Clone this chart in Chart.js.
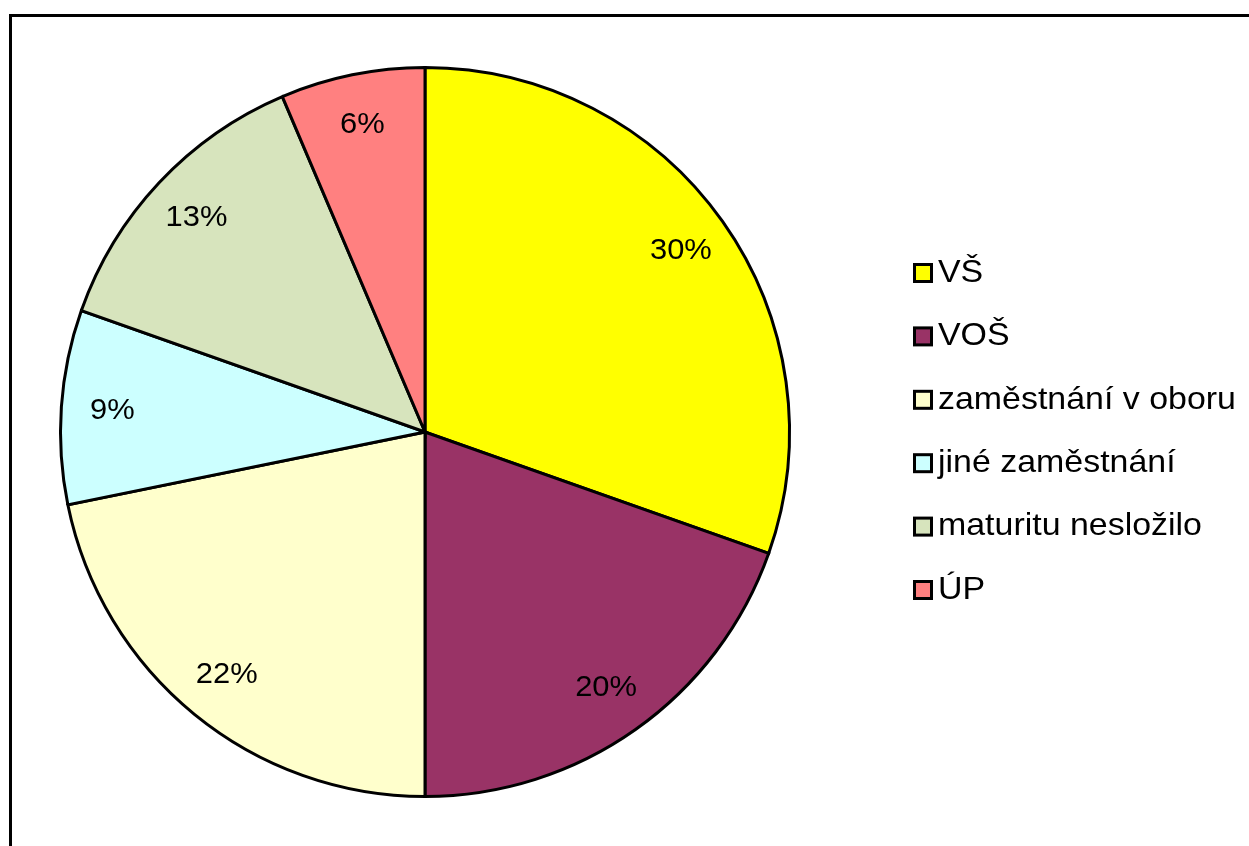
<!DOCTYPE html>
<html>
<head>
<meta charset="utf-8">
<script src="https://cdn.jsdelivr.net/npm/chart.js@4"></script>
<style>
  html, body { margin: 0; padding: 0; background: #fff; overflow: hidden; }
  #wrap { position: relative; width: 1249px; height: 846px; }
</style>
</head>
<body>
<div id="wrap"><canvas id="pieChart" width="1249" height="846"></canvas></div>
<script>
// Data (percent shares)
const categories = ['VŠ', 'VOŠ', 'zaměstnání v oboru', 'jiné zaměstnání', 'maturitu nesložilo', 'ÚP'];
const shares = [30.4, 19.6, 21.8, 8.6, 13.2, 6.4];
const sliceColors = ['#FFFF00', '#993366', '#FFFFCC', '#CCFFFF', '#D7E4BD', '#FF8080'];

const FONT = '"Liberation Sans", Arial, sans-serif';

function wideText(ctx, txt, x, y, align, sx) {
    ctx.save();
    ctx.translate(x, y);
    ctx.scale(sx, 1);
    ctx.textAlign = align;
    ctx.fillText(txt, 0, 0);
    ctx.restore();
}

// frame around the chart
const framePlugin = {
    id: 'frame',
    beforeDraw(chart) {
        const ctx = chart.ctx;
        ctx.save();
        ctx.strokeStyle = '#000';
        ctx.lineWidth = 3;
        ctx.strokeRect(10.5, 15.5, 1260, 860);
        ctx.restore();
    }
};

// percentage labels inside the slices
const sliceLabels = {
    id: 'sliceLabels',
    afterDatasetsDraw(chart) {
        const ctx = chart.ctx;
        const meta = chart.getDatasetMeta(0);
        const total = shares.reduce((a, b) => a + b, 0);
        ctx.save();
        ctx.font = '30px ' + FONT;
        ctx.fillStyle = '#000';
        ctx.textBaseline = 'middle';
        meta.data.forEach((arc, i) => {
            const mid = (arc.startAngle + arc.endAngle) / 2;
            const r = arc.outerRadius * 0.86;
            const x = arc.x + Math.cos(mid) * r;
            const y = arc.y + Math.sin(mid) * r;
            wideText(ctx, Math.round(shares[i] / total * 100) + '%', x, y, 'center', 1.03);
        });
        ctx.restore();
    }
};

// legend on the right, squares with black outline
const sideLegend = {
    id: 'sideLegend',
    afterDraw(chart) {
        const ctx = chart.ctx;
        const left = 914.5, top = 273, step = 63.4, box = 17;
        ctx.save();
        ctx.font = '32px ' + FONT;
        ctx.textBaseline = 'middle';
        categories.forEach((name, i) => {
            const y = top + i * step;
            ctx.fillStyle = sliceColors[i];
            ctx.fillRect(left, y - box / 2, box, box);
            ctx.strokeStyle = '#000';
            ctx.lineWidth = 3;
            ctx.strokeRect(left, y - box / 2, box, box);
            ctx.fillStyle = '#000';
            wideText(ctx, name, 938, y, 'left', 1.06);
        });
        ctx.restore();
    }
};

new Chart(document.getElementById('pieChart'), {
    type: 'pie',
    data: {
        labels: categories,
        datasets: [{
            data: shares,
            backgroundColor: sliceColors,
            borderColor: '#000',
            borderWidth: 3,
            borderJoinStyle: 'miter'
        }]
    },
    options: {
        responsive: false,
        animation: false,
        events: [],
        layout: { padding: { left: 59, top: 66, right: 458, bottom: 48 } },
        plugins: {
            legend: { display: false },
            tooltip: { enabled: false }
        }
    },
    plugins: [framePlugin, sliceLabels, sideLegend]
});
</script>
</body>
</html>
